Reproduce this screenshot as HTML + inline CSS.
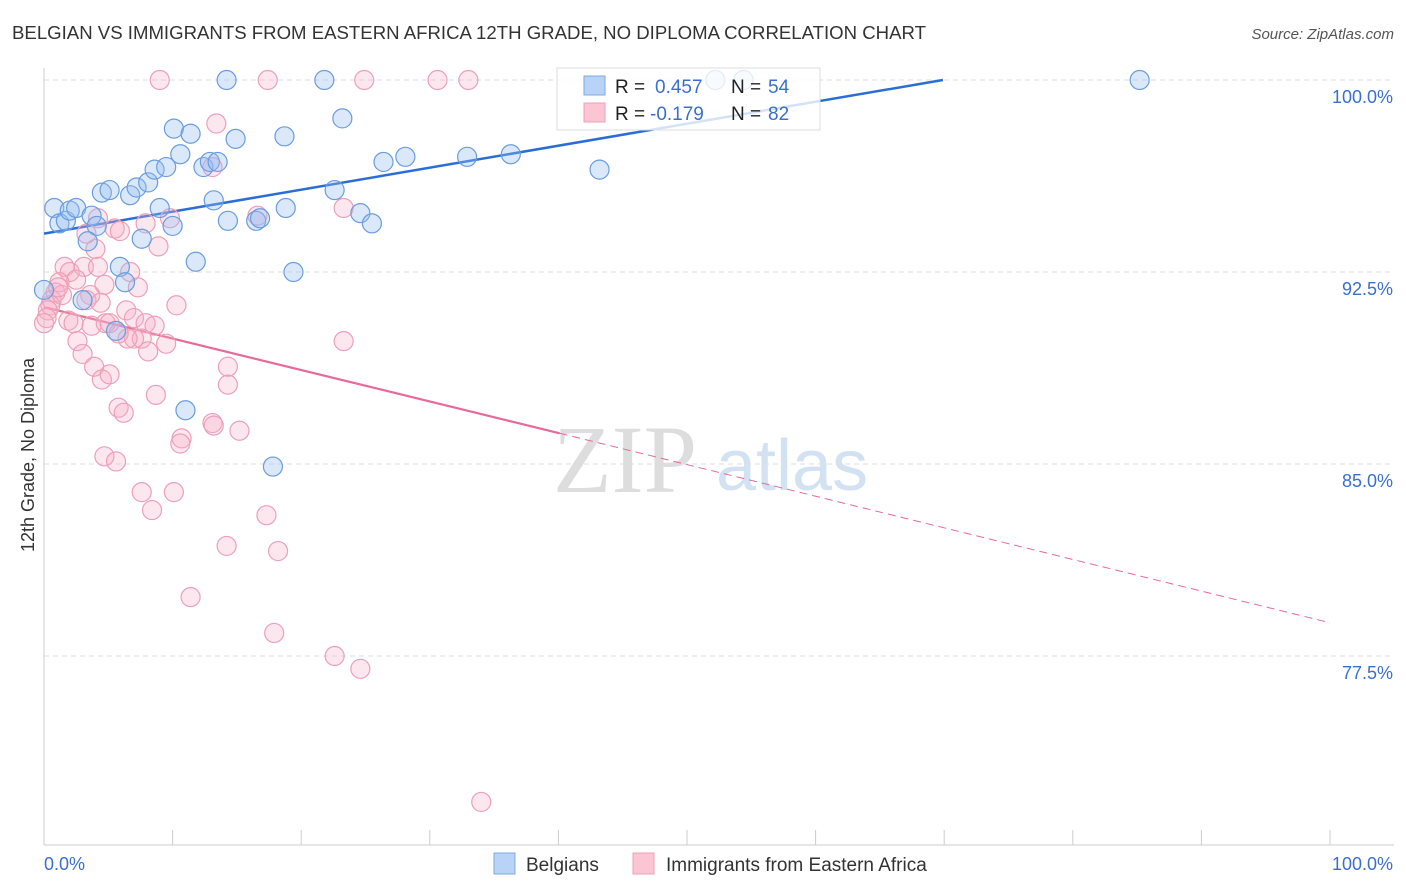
<!DOCTYPE html>
<html><head><meta charset="utf-8"><style>
body{margin:0;background:#fff;font-family:"Liberation Sans",sans-serif;}
svg{display:block}
</style></head><body>
<svg id="chart" width="1406" height="892" xmlns="http://www.w3.org/2000/svg">
<text x="12" y="39" font-size="18.5" fill="#333" textLength="914" lengthAdjust="spacingAndGlyphs">BELGIAN VS IMMIGRANTS FROM EASTERN AFRICA 12TH GRADE, NO DIPLOMA CORRELATION CHART</text>
<text x="1394" y="39" font-size="15" font-style="italic" fill="#555" text-anchor="end">Source: ZipAtlas.com</text>
<text transform="translate(34,455) rotate(-90)" font-size="18" fill="#333" text-anchor="middle">12th Grade, No Diploma</text>
<g>
<text x="553" y="492" font-family="Liberation Serif,serif" font-size="96" fill="#ddd">ZIP</text>
<text x="716" y="490" font-size="72" fill="#d3e2f3">atlas</text>
</g>
<g id="grid"></g><g id="axes"></g><g id="trend"></g><g id="pts"></g>
<g>
<rect x="557" y="68" width="263" height="62" fill="#fff" fill-opacity="0.8" stroke="#ddd"/>
<rect x="584" y="76" width="21" height="19" fill="#b8d3f5" stroke="#7fa9e0"/>
<rect x="584" y="103" width="21" height="19" fill="#fbc5d3" stroke="#eda0b6"/>
<text x="615" y="93" font-size="19" fill="#222">R =</text>
<text x="655" y="93" font-size="19" fill="#3a6fd0">0.457</text>
<text x="731" y="93" font-size="19" fill="#222">N =</text>
<text x="768" y="93" font-size="19" fill="#3a6fd0">54</text>
<text x="615" y="120" font-size="19" fill="#222">R =</text>
<text x="650" y="120" font-size="19" fill="#3a6fd0">-0.179</text>
<text x="731" y="120" font-size="19" fill="#222">N =</text>
<text x="768" y="120" font-size="19" fill="#3a6fd0">82</text>
</g>
<g>
<rect x="494" y="853" width="21" height="21" fill="#b8d3f5" stroke="#7fa9e0"/>
<text x="526" y="871" font-size="19" fill="#333">Belgians</text>
<rect x="633" y="853" width="21" height="21" fill="#fbc5d3" stroke="#eda0b6"/>
<text x="666" y="871" font-size="19" fill="#333">Immigrants from Eastern Africa</text>
</g>
</svg>
<script>
const yTicks=[100,92.5,85,77.5];
const yTickLabels=["100.0%","92.5%","85.0%","77.5%"];
const blueX=[0.8,1.2,1.7,2.0,2.5,3.7,4.1,3.4,4.5,5.1,6.7,7.2,8.1,8.6,9.0,9.5,10.0,10.1,10.6,11.4,11.8,12.4,12.9,13.5,13.2,14.3,14.2,14.9,16.5,16.8,18.7,18.8,19.4,21.8,22.6,23.2,24.6,25.5,26.4,28.1,32.9,36.3,43.2,52.2,54.4,85.2,5.9,6.3,3.0,5.6,11.0,17.8,0.0,7.6];
const blueY=[95.0,94.4,94.5,94.9,95.0,94.7,94.3,93.7,95.6,95.7,95.5,95.8,96.0,96.5,95.0,96.6,94.3,98.1,97.1,97.9,92.9,96.6,96.8,96.8,95.3,94.5,100,97.7,94.5,94.6,97.8,95.0,92.5,100,95.7,98.5,94.8,94.4,96.8,97.0,97.0,97.1,96.5,100,100,100,92.7,92.1,91.4,90.2,87.1,84.9,91.8,93.8];
const pinkX=[9.0,17.4,24.9,30.6,33.0,13.4,13.1,16.6,23.3,9.8,4.2,5.5,5.9,7.9,8.9,4.0,3.3,1.6,2.0,3.1,2.5,4.2,6.7,4.7,3.6,7.3,1.2,0.9,0.6,0.5,0.3,0.2,0.0,1.9,2.3,3.7,4.8,5.1,6.4,7.0,7.9,8.6,10.3,7.6,7.0,6.5,5.8,2.6,3.0,3.9,4.5,5.1,9.5,8.1,14.3,14.3,8.7,23.3,5.8,6.2,13.1,13.2,15.2,10.7,10.6,4.7,5.6,7.6,10.1,8.4,17.3,14.2,18.2,11.4,17.9,22.6,24.6,34.0,1.4,1.1,3.3,4.4];
const pinkY=[100,100,100,100,100,98.3,96.6,94.7,95.0,94.6,94.6,94.2,94.1,94.4,93.5,93.4,94.0,92.7,92.5,92.7,92.2,92.7,92.5,92.0,91.6,91.9,92.1,91.7,91.4,91.2,91.0,90.7,90.5,90.6,90.5,90.4,90.5,90.5,91.0,90.7,90.5,90.4,91.2,89.9,89.9,89.9,90.1,89.8,89.3,88.8,88.3,88.5,89.7,89.4,88.8,88.1,87.7,89.8,87.2,87.0,86.6,86.5,86.3,86.0,85.8,85.3,85.1,83.9,83.9,83.2,83.0,81.8,81.6,79.8,78.4,77.5,77.0,71.8,91.6,91.9,91.4,91.3];
const blueTrendX=[0,69.9];
const blueTrendY=[94.0,100];
const pinkTrendX=[0,40.1,100];
const pinkTrendY=[91.13,86.2,78.8];

const NS="http://www.w3.org/2000/svg";
const X0=44,X1=1330,Y100=80,PPY=25.6;
const sx=v=>X0+(X1-X0)*v/100;
const sy=v=>Y100+(100-v)*PPY;
function mk(tag,attrs,parent){const e=document.createElementNS(NS,tag);for(const k in attrs)e.setAttribute(k,attrs[k]);parent.appendChild(e);return e;}
const grid=document.getElementById('grid'),axes=document.getElementById('axes'),trend=document.getElementById('trend'),pts=document.getElementById('pts');
yTicks.forEach((t,i)=>{
 const l=mk('line',{x1:X0,x2:X1+64,y1:sy(t),y2:sy(t),stroke:'#ddd','stroke-dasharray':'5,4'},grid);
 
 
 const tx=mk('text',{x:1393,y:sy(t)+23,'font-size':18,fill:'#3a6fd0','text-anchor':'end'},axes);
 tx.textContent=yTickLabels[i];
 
 
});
const ya=mk('line',{x1:X0,x2:X0,y1:68,y2:845,stroke:'#ccc'},axes);


const xa=mk('line',{x1:X0,x2:1394,y1:845,y2:845,stroke:'#ccc'},axes);


for(let i=0;i<=10;i++){
 const tk=mk('line',{x1:sx(i*10),x2:sx(i*10),y1:830,y2:845,stroke:'#ccc'},axes);
 
 
}
const xl0=mk('text',{x:44,y:870,'font-size':18,fill:'#3a6fd0'},axes);xl0.textContent='0.0%';


const xl1=mk('text',{x:1393,y:870,'font-size':18,fill:'#3a6fd0','text-anchor':'end'},axes);xl1.textContent='100.0%';



function dots(xs,ys,fill,stroke,name){xs.forEach((x,i)=>{
 const c=mk('circle',{cx:sx(x),cy:sy(ys[i]),r:9.5,fill:fill,stroke:stroke,'stroke-width':1.2},pts);
 
 
});}
dots(pinkX,pinkY,'rgba(248,175,198,0.3)','#eda0b8','immigrant-point');
dots(blueX,blueY,'rgba(150,190,240,0.35)','#6a9ddf','belgian-point');
const bl=mk('line',{x1:sx(blueTrendX[0]),y1:sy(blueTrendY[0]),x2:sx(blueTrendX[1]),y2:sy(blueTrendY[1]),stroke:'#2a6dd6','stroke-width':2.5},trend);


const pl=mk('line',{x1:sx(pinkTrendX[0]),y1:sy(pinkTrendY[0]),x2:sx(pinkTrendX[1]),y2:sy(pinkTrendY[1]),stroke:'#e8699a','stroke-width':2.2},trend);


const pd=mk('line',{x1:sx(pinkTrendX[1]),y1:sy(pinkTrendY[1]),x2:sx(pinkTrendX[2]),y2:sy(pinkTrendY[2]),stroke:'#e8699a','stroke-width':1,'stroke-dasharray':'8,5'},trend);


</script>
</body></html>
